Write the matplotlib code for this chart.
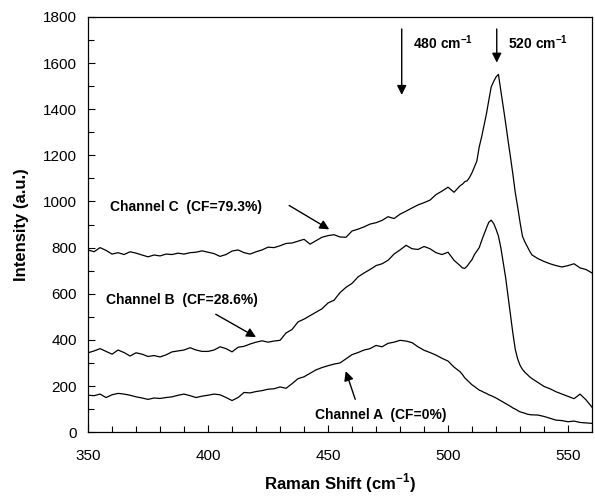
import numpy as np
import matplotlib.pyplot as plt
from matplotlib.ticker import MultipleLocator

plt.rcParams['font.family'] = ['Liberation Sans', 'DejaVu Sans']
plt.rcParams['mathtext.fontset'] = 'custom'
plt.rcParams['mathtext.rm'] = 'Liberation Sans:bold'
plt.rcParams['mathtext.bf'] = 'Liberation Sans:bold'

# Raman shift grid (cm-1): coarse, fine around the 520 peak, coarse again
shift = np.concatenate([np.arange(350, 505.1, 2.5),
                        np.arange(506, 534.1, 1.0),
                        np.arange(535, 560.1, 2.5)])

chan_c = [790, 782, 800, 788, 772, 778, 770, 782, 776, 768,
          760, 768, 764, 772, 770, 776, 772, 778, 780, 786,
          780, 774, 762, 770, 785, 790, 778, 772, 782, 790,
          802, 800, 808, 818, 820, 828, 836, 815, 830, 845,
          852, 856, 846, 845, 872, 880, 890, 902, 908, 918,
          934, 926, 945, 958, 972, 985, 995, 1006, 1030, 1045,
          1062, 1040, 1068,
          1075, 1086, 1090, 1105, 1125, 1150, 1175, 1237, 1280, 1330,
          1380, 1440, 1497, 1520, 1540, 1551, 1480, 1411, 1340, 1265,
          1194, 1120, 1040, 977, 910, 850, 825, 805, 785,
          768, 752, 740, 730, 722, 716, 722, 730, 712, 705, 690]

chan_b = [344, 352, 362, 350, 338, 356, 345, 330, 344, 338,
          328, 332, 326, 335, 348, 352, 356, 366, 356, 350,
          350, 356, 370, 362, 348, 368, 372, 382, 390, 396,
          390, 395, 398, 430, 445, 478, 490, 505, 520, 535,
          560, 572, 605, 628, 645, 673, 690, 705, 722, 730,
          745, 772, 790, 810, 795, 792, 805, 795, 778, 770,
          780, 745, 722,
          712, 710, 720, 735, 748, 770, 785, 800, 830, 858,
          885, 910, 919, 905, 880, 850, 800, 735, 670, 590,
          510, 430, 360, 318, 290, 272, 260, 250, 240,
          232, 215, 198, 188, 175, 165, 155, 145, 165, 140, 108]

chan_a = [160, 158, 165, 150, 162, 168, 165, 160, 153, 148,
          142, 148, 146, 150, 153, 160, 165, 158, 150, 156,
          160, 165, 162, 150, 137, 150, 172, 170, 176, 180,
          186, 188, 196, 190, 210, 232, 240, 255, 270, 280,
          288, 295, 300, 318, 336, 345, 356, 362, 376, 370,
          385, 390, 398, 395, 388, 370, 355, 345, 334, 320,
          308, 282, 262,
          250, 235, 225, 215, 205, 198, 190, 182, 178, 172,
          168, 162, 158, 153, 148, 142, 136, 130, 124, 118,
          112, 105, 100, 94, 88, 85, 82, 78, 76,
          75, 74, 68, 60, 52, 50, 45, 48, 42, 40, 38]

fig = plt.figure(figsize=(5.95, 4.99), dpi=100)
ax = fig.add_axes([0.148, 0.134, 0.847, 0.832])

for y in (chan_c, chan_b, chan_a):
    ax.plot(shift, y, color='black', lw=0.9)

ax.set_xlim(350, 560)
ax.set_ylim(0, 1800)
ax.xaxis.set_major_locator(MultipleLocator(50))
ax.xaxis.set_minor_locator(MultipleLocator(10))
ax.yaxis.set_major_locator(MultipleLocator(200))
ax.yaxis.set_minor_locator(MultipleLocator(100))
ax.tick_params(which='both', direction='in', top=False, right=False,
               labelsize=11, width=0.8)
ax.tick_params(which='major', length=5, pad=8)
ax.tick_params(axis='x', which='major', pad=12)
ax.tick_params(which='minor', length=4)
for s in ax.spines.values():
    s.set_linewidth(0.9)

ax.set_xlabel('Raman Shift (cm$^{-1}$)', fontsize=12, fontweight='bold', labelpad=6)
ax.set_ylabel('Intensity (a.u.)', fontsize=12, fontweight='bold', labelpad=10)

arr = dict(arrowstyle='-|>', color='black', lw=1, mutation_scale=14)
txt = dict(fontsize=10, fontweight='bold', va='center')

# peak markers
ax.annotate('', xy=(480.7, 1450), xytext=(480.7, 1760), arrowprops=arr)
ax.text(485.4, 1690, '480 cm$^{-1}$', ha='left', **txt)
ax.annotate('', xy=(520.3, 1590), xytext=(520.3, 1760), arrowprops=arr)
ax.text(524.9, 1690, '520 cm$^{-1}$', ha='left', **txt)

# channel labels
ax.text(359.2, 977, 'Channel C  (CF=79.3%)', ha='left', **txt)
ax.annotate('', xy=(451.5, 873), xytext=(432.8, 989), arrowprops=arr)
ax.text(357.5, 572, 'Channel B  (CF=28.6%)', ha='left', **txt)
ax.annotate('', xy=(421, 406), xytext=(402.2, 517), arrowprops=arr)
ax.text(444.6, 74, 'Channel A  (CF=0%)', ha='left', **txt)
ax.annotate('', xy=(457, 276), xytext=(461.7, 131), arrowprops=arr)

fig.savefig('out.png', dpi=100)
